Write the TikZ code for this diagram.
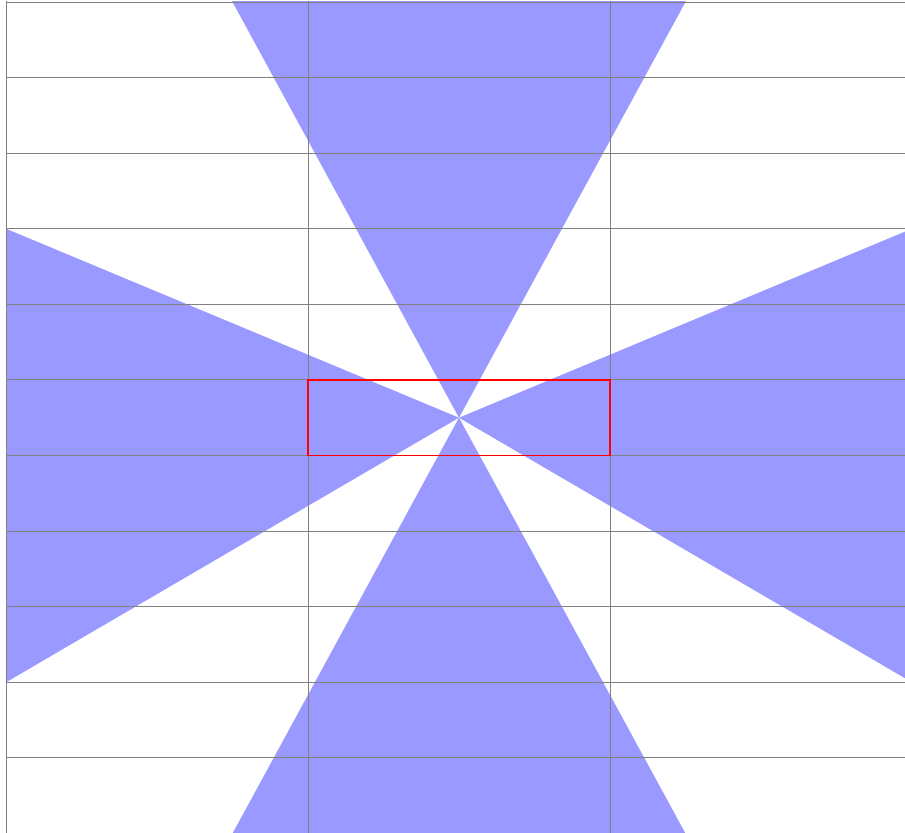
\documentclass[tikz,border=0pt]{standalone}
\usepackage{tikz}
\usetikzlibrary{calc}

\begin{document}
\begin{tikzpicture}[
      x=6.04cm, y=-1.512cm,
      wedge/.style={fill=blue!40, draw=none},
      gridline/.style={draw=gray, line width=0.5pt},
      frame/.style={draw=red, line width=0.8pt}
  ]
    \useasboundingbox (-0.02,-0.026) rectangle (2.977,10.99);
    \clip ([xshift=-0.3pt,yshift=0.3pt]0,0) rectangle (2.977,10.99);
    \coordinate (c) at (1.5,5.5);
    % corner points of the four wedges
    \coordinate (tl) at (0.75,0);
    \coordinate (tr) at (2.25,0);
    \coordinate (bl) at (0.75,11);
    \coordinate (br) at (2.25,11);
    \coordinate (lt) at (0,3);
    \coordinate (lb) at (0,9);
    \coordinate (rt) at (3,3);
    \coordinate (rb) at (3,9);
    \fill[wedge] (c) -- ($(c)!1.1!(tl)$) -- ($(c)!1.1!(tr)$) -- cycle;
    \fill[wedge] (c) -- ($(c)!1.1!(bl)$) -- ($(c)!1.1!(br)$) -- cycle;
    \fill[wedge] (c) -- (lt) -- (lb) -- cycle;
    \fill[wedge] (c) -- ($(c)!1.1!(rt)$) -- ($(c)!1.1!(rb)$) -- cycle;
    % grid
    \foreach \i in {0,...,3}
      \draw[gridline] (\i,-0.1) -- (\i,11.1);
    \foreach \j in {0,...,11}
      \draw[gridline] (0,\j) -- (3.1,\j);
    \draw[frame] (1,5) rectangle (2,6);
  \end{tikzpicture}
\end{document}
